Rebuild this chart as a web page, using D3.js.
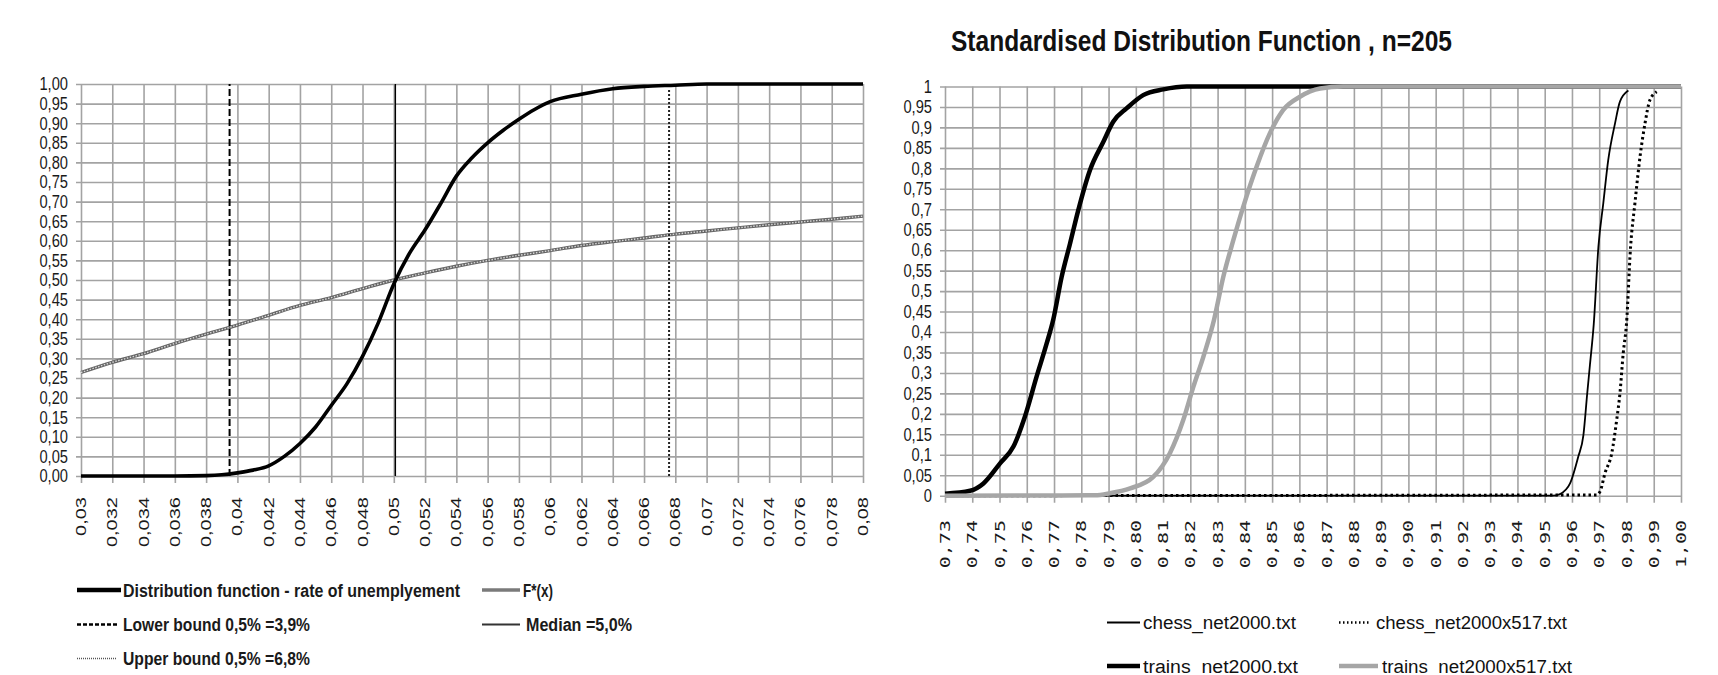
<!DOCTYPE html>
<html>
<head>
<meta charset="utf-8">
<script src="https://cdn.jsdelivr.net/npm/d3@7"></script>
<style>
  html, body { margin: 0; padding: 0; background: #fff; }
  svg { display: block; }
</style>
</head>
<body>
<svg id="chart" width="1718" height="675"></svg>
<script>
// ---------------- DATA ----------------
// Left chart: distribution function of unemployment rate
const leftXTickLabels = ["0,03","0,032","0,034","0,036","0,038","0,04","0,042","0,044","0,046","0,048","0,05","0,052","0,054","0,056","0,058","0,06","0,062","0,064","0,066","0,068","0,07","0,072","0,074","0,076","0,078","0,08"];
const leftYTickLabels = ["0,00","0,05","0,10","0,15","0,20","0,25","0,30","0,35","0,40","0,45","0,50","0,55","0,60","0,65","0,70","0,75","0,80","0,85","0,90","0,95","1,00"];

const distX = [0.03,0.032,0.034,0.036,0.038,0.039,0.04,0.041,0.042,0.043,0.044,0.045,0.046,0.047,0.048,0.049,0.05,0.051,0.052,0.053,0.054,0.055,0.056,0.057,0.058,0.059,0.06,0.062,0.064,0.066,0.068,0.07,0.072,0.074,0.076,0.078,0.08];
const distF = [0,0,0,0,0.001,0.003,0.008,0.015,0.026,0.05,0.083,0.125,0.18,0.235,0.305,0.39,0.49,0.568,0.628,0.695,0.765,0.812,0.85,0.882,0.91,0.935,0.955,0.974,0.988,0.994,0.997,1,1,1,1,1,1];

const fStarX = [0.03,0.032,0.034,0.036,0.038,0.04,0.042,0.044,0.046,0.048,0.05,0.052,0.054,0.056,0.058,0.06,0.062,0.064,0.066,0.068,0.07,0.072,0.074,0.076,0.078,0.08];
const fStarF = [0.264,0.29,0.312,0.338,0.362,0.385,0.41,0.435,0.455,0.478,0.50,0.518,0.535,0.55,0.563,0.575,0.588,0.598,0.607,0.617,0.625,0.633,0.641,0.648,0.655,0.663];

const lowerBound = 0.0395;
const median = 0.0501;
const upperBound = 0.0676;

const leftLegend = [
  "Distribution function - rate of unemplyement",
  "F*(x)",
  "Lower bound 0,5% =3,9%",
  "Median =5,0%",
  "Upper bound 0,5% =6,8%"
];

// Right chart: standardised distribution function
const rightTitle = "Standardised Distribution Function , n=205";
const rightXTickLabels = ["0,73","0,74","0,75","0,76","0,77","0,78","0,79","0,80","0,81","0,82","0,83","0,84","0,85","0,86","0,87","0,88","0,89","0,90","0,91","0,92","0,93","0,94","0,95","0,96","0,97","0,98","0,99","1,00"];
const rightYTickLabels = ["0","0,05","0,1","0,15","0,2","0,25","0,3","0,35","0,4","0,45","0,5","0,55","0,6","0,65","0,7","0,75","0,8","0,85","0,9","0,95","1"];

const chessX = [0.73,0.953,0.9556,0.9593,0.9623,0.9642,0.9656,0.9666,0.968,0.9697,0.9715,0.9733,0.9758,0.9776,0.9807];
const chessF = [0,0,0.004,0.03,0.095,0.148,0.25,0.32,0.42,0.608,0.715,0.82,0.91,0.963,0.99];

const chess517X = [0.73,0.969,0.9703,0.9721,0.9746,0.9764,0.9776,0.9788,0.98,0.9815,0.9831,0.985,0.9868,0.9886,0.9911];
const chess517F = [0,0.002,0.01,0.055,0.104,0.185,0.25,0.348,0.42,0.608,0.715,0.83,0.91,0.967,0.987];

const trainsX = [0.73,0.7392,0.7441,0.7502,0.7551,0.7593,0.7636,0.7673,0.7697,0.7728,0.7759,0.7789,0.7832,0.7881,0.7917,0.7967,0.8027,0.8101,0.8187,1.0];
const trainsF = [0.005,0.012,0.03,0.079,0.12,0.193,0.291,0.372,0.43,0.535,0.617,0.698,0.796,0.865,0.914,0.947,0.979,0.993,1,1];

const trains517X = [0.73,0.785,0.7905,0.7979,0.8064,0.8125,0.8174,0.8211,0.8248,0.8287,0.8321,0.8358,0.8394,0.8443,0.8492,0.8541,0.8602,0.8676,0.876,1.0];
const trains517F = [0,0.001,0.006,0.018,0.046,0.104,0.185,0.266,0.34,0.43,0.535,0.625,0.706,0.804,0.886,0.943,0.975,0.995,1,1];

const rightLegend = ["chess_net2000.txt","chess_net2000x517.txt","trains_net2000.txt","trains_net2000x517.txt"];

// ---------------- DRAWING ----------------
const svg = d3.select("#chart");
const num = s => +s.replace(",", ".");
const zip = (xs, ys) => xs.map((x, i) => [x, ys[i]]);
const GRID = "#a3a3a3";
const TXT = "#1a1a1a";
const SANS = "'Liberation Sans', Arial, sans-serif";

// ===== LEFT CHART =====
const L = {left: 81, right: 863, top: 84, bottom: 476};
const xL = d3.scaleLinear().domain([0.03, 0.08]).range([L.left, L.right]);
const yL = d3.scaleLinear().domain([0, 1]).range([L.bottom, L.top]);

const gL = svg.append("g");
gL.append("g")
  .attr("transform", `translate(0,${L.top})`)
  .call(d3.axisBottom(xL).tickValues(leftXTickLabels.map(num)).tickSize(L.bottom - L.top + 7).tickFormat(""))
  .call(g => g.select(".domain").remove())
  .call(g => g.selectAll("line").attr("stroke", GRID).attr("stroke-width", 1.6));
gL.append("g")
  .attr("transform", `translate(${L.right},0)`)
  .call(d3.axisLeft(yL).tickValues(leftYTickLabels.map(num)).tickSize(L.right - L.left + 5).tickFormat(""))
  .call(g => g.select(".domain").remove())
  .call(g => g.selectAll("line").attr("stroke", GRID).attr("stroke-width", 1.6));

gL.selectAll("text.ly").data(leftYTickLabels).join("text")
  .attr("class", "ly")
  .attr("transform", d => `translate(68,${yL(num(d))}) scale(0.84,1)`)
  .attr("dy", "0.36em")
  .attr("text-anchor", "end")
  .attr("font-family", SANS).attr("font-size", 17.5).attr("fill", TXT)
  .text(d => d);
gL.selectAll("text.lx").data(leftXTickLabels).join("text")
  .attr("class", "lx")
  .attr("transform", d => `translate(${xL(num(d))},497) rotate(-90) scale(1.43,1)`)
  .attr("dy", "0.36em")
  .attr("text-anchor", "end")
  .attr("font-family", SANS).attr("font-size", 14).attr("fill", TXT)
  .text(d => d);

const lineL = d3.line().x(d => xL(d[0])).y(d => yL(d[1]));
const lineLs = d3.line().x(d => xL(d[0])).y(d => yL(d[1])).curve(d3.curveMonotoneX);

// F*(x) textured grey line
gL.append("path").datum(zip(fStarX, fStarF)).attr("d", lineLs)
  .attr("fill", "none").attr("stroke", "#666").attr("stroke-width", 3.4);
gL.append("path").datum(zip(fStarX, fStarF)).attr("d", lineLs)
  .attr("fill", "none").attr("stroke", "#d8d8d8").attr("stroke-width", 1.4).attr("stroke-dasharray", "1.5,1.5");

gL.append("path").datum([[lowerBound, 0], [lowerBound, 1]]).attr("d", lineL)
  .attr("stroke", "#000").attr("stroke-width", 2).attr("stroke-dasharray", "7,3");
gL.append("path").datum([[median, 0], [median, 1]]).attr("d", lineL)
  .attr("stroke", "#000").attr("stroke-width", 1.4);
gL.append("path").datum([[upperBound, 0], [upperBound, 0.99]]).attr("d", lineL)
  .attr("stroke", "#222").attr("stroke-width", 2).attr("stroke-dasharray", "2,2");

gL.append("path").datum(zip(distX, distF)).attr("d", lineLs)
  .attr("fill", "none").attr("stroke", "#000").attr("stroke-width", 3.6).attr("stroke-linejoin", "round");

// left legend
const legL = svg.append("g").attr("font-family", SANS).attr("font-weight", "bold").attr("font-size", 18).attr("fill", TXT);
const legLItems = [
  {t: leftLegend[0], x1: 77, x2: 121, y: 590, tx: 123, tw: 337, stroke: "#000", sw: 4.5, dash: null},
  {t: leftLegend[1], x1: 482, x2: 520, y: 590, tx: 523, tw: 30, stroke: "#7a7a7a", sw: 3.5, dash: null},
  {t: leftLegend[2], x1: 77, x2: 118, y: 624.5, tx: 123, tw: 187, stroke: "#000", sw: 2.4, dash: "4,2"},
  {t: leftLegend[3], x1: 482, x2: 520, y: 624.5, tx: 526, tw: 106, stroke: "#333", sw: 1.8, dash: null},
  {t: leftLegend[4], x1: 77, x2: 117, y: 658.5, tx: 123, tw: 187, stroke: "#555", sw: 1.6, dash: "1,1"}
];
legLItems.forEach(d => {
  legL.append("line").attr("x1", d.x1).attr("x2", d.x2).attr("y1", d.y).attr("y2", d.y)
    .attr("stroke", d.stroke).attr("stroke-width", d.sw).attr("stroke-dasharray", d.dash);
  legL.append("text").attr("x", d.tx).attr("y", d.y + 6.5)
    .attr("textLength", d.tw).attr("lengthAdjust", "spacingAndGlyphs").text(d.t);
});

// ===== RIGHT CHART =====
const R = {left: 945, right: 1681, top: 86.5, bottom: 495.7};
const xR = d3.scaleLinear().domain([0.73, 1.0]).range([R.left, R.right]);
const yR = d3.scaleLinear().domain([0, 1]).range([R.bottom, R.top]);
const gR = svg.append("g");

svg.append("text").attr("x", 951).attr("y", 51)
  .attr("font-family", SANS).attr("font-weight", "bold").attr("font-size", 29).attr("fill", "#111")
  .attr("textLength", 501).attr("lengthAdjust", "spacingAndGlyphs")
  .text(rightTitle);

gR.append("g")
  .attr("transform", `translate(0,${R.top})`)
  .call(d3.axisBottom(xR).tickValues(rightXTickLabels.map(num)).tickSize(R.bottom - R.top + 7).tickFormat(""))
  .call(g => g.select(".domain").remove())
  .call(g => g.selectAll("line").attr("stroke", GRID).attr("stroke-width", 1.6));
gR.append("g")
  .attr("transform", `translate(${R.right},0)`)
  .call(d3.axisLeft(yR).tickValues(rightYTickLabels.map(num)).tickSize(R.right - R.left + 5).tickFormat(""))
  .call(g => g.select(".domain").remove())
  .call(g => g.selectAll("line").attr("stroke", GRID).attr("stroke-width", 1.6));

gR.selectAll("text.ry").data(rightYTickLabels).join("text")
  .attr("class", "ry")
  .attr("transform", d => `translate(932,${yR(num(d))}) scale(0.84,1)`)
  .attr("dy", "0.36em")
  .attr("text-anchor", "end")
  .attr("font-family", SANS).attr("font-size", 17.5).attr("fill", TXT)
  .text(d => d);
gR.selectAll("text.rx").data(rightXTickLabels).join("text")
  .attr("class", "rx")
  .attr("transform", d => `translate(${xR(num(d))},520) rotate(-90) scale(1.43,1)`)
  .attr("dy", "0.36em")
  .attr("text-anchor", "end")
  .attr("font-family", "'DejaVu Sans Mono', 'Liberation Mono', monospace").attr("font-size", 14).attr("fill", TXT)
  .text(d => d);

const lineR = d3.line().x(d => xR(d[0])).y(d => yR(d[1])).curve(d3.curveMonotoneX);

gR.append("path").datum(zip(chess517X, chess517F)).attr("d", lineR)
  .attr("fill", "none").attr("stroke", "#000").attr("stroke-width", 3)
  .attr("stroke-dasharray", "2.5,3");
gR.append("path").datum(zip(chessX, chessF)).attr("d", lineR)
  .attr("fill", "none").attr("stroke", "#000").attr("stroke-width", 1.8);
gR.append("path").datum(zip(trainsX, trainsF)).attr("d", lineR)
  .attr("fill", "none").attr("stroke", "#000").attr("stroke-width", 4.5).attr("stroke-linejoin", "round");
gR.append("path").datum(zip(trains517X, trains517F)).attr("d", lineR)
  .attr("fill", "none").attr("stroke", "#a6a6a6").attr("stroke-width", 4.5).attr("stroke-linejoin", "round");

// right legend
const legR = svg.append("g").attr("font-family", SANS).attr("font-size", 18).attr("fill", "#111");
const legRItems = [
  {t: rightLegend[0], x1: 1107, x2: 1140, y: 622.5, tx: 1143, tw: 153, stroke: "#000", sw: 2, dash: null},
  {t: rightLegend[1], x1: 1339, x2: 1370, y: 622.5, tx: 1376, tw: 191, stroke: "#000", sw: 2.4, dash: "1.5,2.5"},
  {t: rightLegend[2], x1: 1107, x2: 1140, y: 666, tx: 1143, tw: 155, stroke: "#000", sw: 4.5, dash: null},
  {t: rightLegend[3], x1: 1339, x2: 1378, y: 666, tx: 1382, tw: 190, stroke: "#a6a6a6", sw: 4.5, dash: null}
];
legRItems.forEach(d => {
  legR.append("line").attr("x1", d.x1).attr("x2", d.x2).attr("y1", d.y).attr("y2", d.y)
    .attr("stroke", d.stroke).attr("stroke-width", d.sw).attr("stroke-dasharray", d.dash);
  legR.append("text").attr("x", d.tx).attr("y", d.y + 6.5)
    .attr("textLength", d.tw).attr("lengthAdjust", "spacingAndGlyphs").text(d.t);
});
</script>
</body>
</html>
